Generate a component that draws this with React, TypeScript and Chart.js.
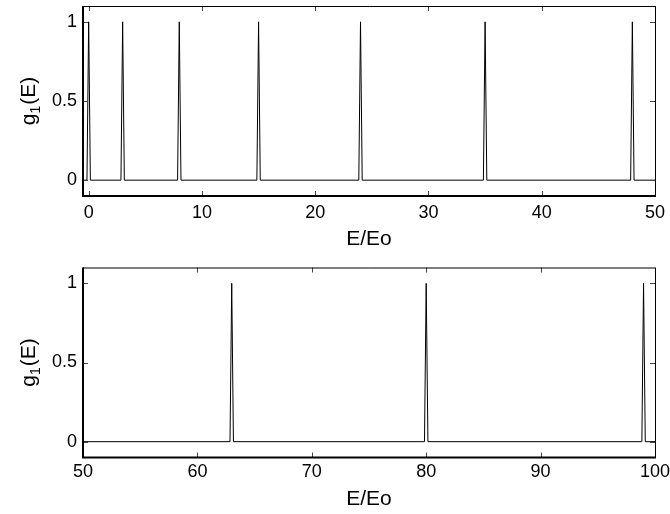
import React, { useEffect, useRef } from "react";
import { Chart, registerables } from "chart.js";

Chart.register(...registerables);

// ---- data ----
const topEnergy = [-0.5, -0.15, 0, 0.15, 2.85, 3, 3.15, 7.85, 8, 8.15, 14.85, 15, 15.15, 23.85, 24, 24.15, 34.85, 35, 35.15, 47.85, 48, 48.15, 50];
const topG = [0, 0, 1, 0, 0, 1, 0, 0, 1, 0, 0, 1, 0, 0, 1, 0, 0, 1, 0, 0, 1, 0, 0];
const bottomEnergy = [50, 62.85, 63, 63.15, 79.85, 80, 80.15, 98.85, 99, 99.15, 100];
const bottomG = [0, 0, 1, 0, 0, 1, 0, 0, 1, 0, 0];
const topXTicks = [0, 10, 20, 30, 40, 50];
const bottomXTicks = [50, 60, 70, 80, 90, 100];
const yTicks = [0, 0.5, 1];
const xTitle = "E/Eo";
const yTitleMain = "g";
const yTitleSub = "1";
const yTitleTail = "(E)";

const FONT = "'Liberation Sans', Arial, Helvetica, sans-serif";

type PanelProps = {
  energy: number[];
  values: number[];
  xMin: number;
  xMax: number;
  xTicks: number[];
  padTop: number;
  axisHeight: number;
  tickPad: number;
  titlePad: number;
};

function makeFramePlugin(xTicks: number[]) {
  return {
    id: "frame",
    afterDraw(chart: any) {
      const { ctx, chartArea, scales } = chart;
      const { left, right, top, bottom } = chartArea;
      ctx.save();
      ctx.strokeStyle = "#444";
      ctx.lineWidth = 1;
      const tl = 5;
      ctx.beginPath();
      for (const t of xTicks) {
        const px = Math.round(scales.x.getPixelForValue(t)) + 0.5;
        ctx.moveTo(px, bottom);
        ctx.lineTo(px, bottom - tl);
        ctx.moveTo(px, top);
        ctx.lineTo(px, top + tl);
      }
      for (const t of yTicks) {
        const py = Math.round(scales.y.getPixelForValue(t)) + 0.5;
        ctx.moveTo(left, py);
        ctx.lineTo(left + tl, py);
        ctx.moveTo(right, py);
        ctx.lineTo(right - tl, py);
      }
      ctx.stroke();
      ctx.strokeStyle = "#000";
      ctx.lineWidth = 1;
      ctx.beginPath();
      ctx.moveTo(left, top + 0.5);
      ctx.lineTo(right + 0.5, top + 0.5);
      ctx.lineTo(right + 0.5, bottom);
      ctx.stroke();
      ctx.lineWidth = 2;
      ctx.beginPath();
      ctx.moveTo(left, top);
      ctx.lineTo(left, bottom);
      ctx.lineTo(right + 1, bottom);
      ctx.stroke();
      ctx.restore();
    },
  };
}

const yTitlePlugin = {
  id: "ytitle",
  afterDraw(chart: any) {
    const { ctx, chartArea } = chart;
    const cy = (chartArea.top + chartArea.bottom) / 2;
    const big = `21px ${FONT}`;
    const small = `14px ${FONT}`;
    ctx.save();
    ctx.font = big;
    const wMain = ctx.measureText(yTitleMain).width;
    const wTail = ctx.measureText(yTitleTail).width;
    ctx.font = small;
    const wSub = ctx.measureText(yTitleSub).width;
    const total = wMain + wSub + 1 + wTail;
    ctx.translate(35, cy);
    ctx.rotate(-Math.PI / 2);
    ctx.fillStyle = "#000";
    ctx.textBaseline = "alphabetic";
    ctx.textAlign = "left";
    let x = -total / 2;
    ctx.font = big;
    ctx.fillText(yTitleMain, x, 0);
    x += wMain;
    ctx.font = small;
    ctx.fillText(yTitleSub, x, 5);
    x += wSub + 1;
    ctx.font = big;
    ctx.fillText(yTitleTail, x, 0);
    ctx.restore();
  },
};

function Panel(p: PanelProps) {
  const ref = useRef<HTMLCanvasElement | null>(null);
  useEffect(() => {
    if (!ref.current) return;
    const chart = new Chart(ref.current, {
      type: "line",
      data: {
        datasets: [
          {
            data: p.energy.map((e, i) => ({ x: e, y: p.values[i] })),
            borderColor: "#000",
            borderWidth: 1,
            pointRadius: 0,
            tension: 0,
            fill: false,
          },
        ],
      },
      options: {
        animation: false,
        responsive: false,
        devicePixelRatio: 1,
        layout: { padding: { left: 0, right: 15, top: p.padTop, bottom: 0 } },
        plugins: { legend: { display: false }, tooltip: { enabled: false } },
        scales: {
          x: {
            type: "linear",
            min: p.xMin,
            max: p.xMax,
            afterBuildTicks: (s: any) => {
              s.ticks = p.xTicks.map((v) => ({ value: v }));
            },
            afterFit: (s: any) => {
              s.height = p.axisHeight;
              s.paddingLeft = 0;
              s.paddingRight = 0;
            },
            grid: { display: false, drawTicks: false },
            border: { display: false },
            ticks: {
              padding: p.tickPad,
              color: "#000",
              font: { family: FONT, size: 18 },
              maxRotation: 0,
              autoSkip: false,
              callback: (v: any) => String(v),
            },
            title: {
              display: true,
              text: xTitle,
              color: "#000",
              font: { family: FONT, size: 21 },
              padding: { top: 0, bottom: p.titlePad },
            },
          },
          y: {
            type: "linear",
            min: -0.1,
            max: 1.1,
            afterBuildTicks: (s: any) => {
              s.ticks = yTicks.map((v) => ({ value: v }));
            },
            afterFit: (s: any) => {
              s.width = 83;
              s.paddingTop = 0;
              s.paddingBottom = 0;
            },
            grid: { display: false, drawTicks: false },
            border: { display: false },
            ticks: {
              padding: 6,
              color: "#000",
              font: { family: FONT, size: 18 },
              callback: (v: any) => String(v),
            },
          },
        },
      } as any,
      plugins: [makeFramePlugin(p.xTicks), yTitlePlugin],
    });
    return () => chart.destroy();
  }, []);
  return <canvas ref={ref} width={670} height={257} style={{ display: "block" }} />;
}

export default function App() {
  return (
    <div style={{ position: "absolute", left: 0, top: 0, width: 670, height: 514, background: "#fff" }}>
      <Panel energy={topEnergy} values={topG} xMin={-0.5} xMax={50} xTicks={topXTicks} padTop={6} axisHeight={61} tickPad={6} titlePad={5} />
      <Panel energy={bottomEnergy} values={bottomG} xMin={50} xMax={100} xTicks={bottomXTicks} padTop={10.5} axisHeight={56.5} tickPad={4} titlePad={2} />
    </div>
  );
}
